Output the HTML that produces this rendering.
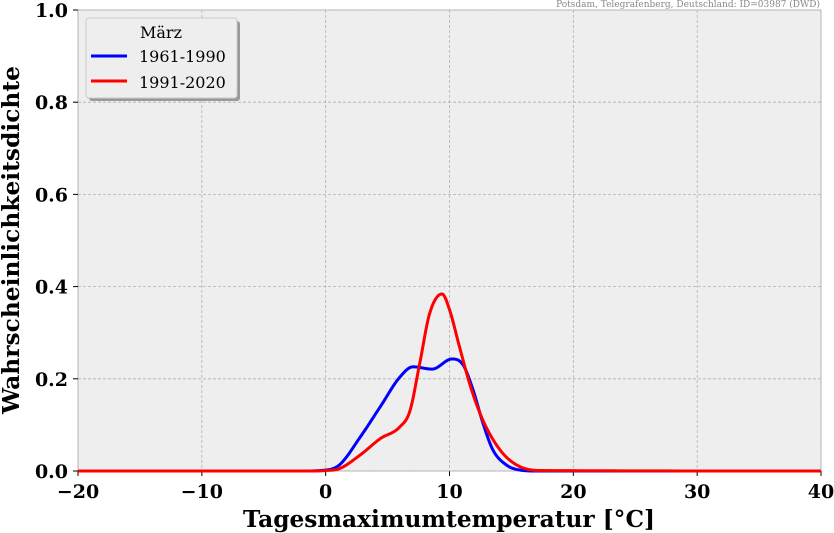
<!DOCTYPE html>
<html><head><meta charset="utf-8"><style>
body{margin:0;background:#fff}
text{font-family:"DejaVu Serif","Liberation Serif",serif}
</style></head><body>
<svg id="chart" width="834" height="533" style="position:absolute;left:0;top:0">
</svg>
<script>
const xTicks=[-20,-10,0,10,20,30,40];
const yTicks=[0.0,0.2,0.4,0.6,0.8,1.0];
const blueX=[-20,-2,0,1.1,2.8,4.4,6.0,7.05,8.6,10.2,11.1,11.9,12.7,13.5,14.6,15.7,17,40];
const blueY=[0,0,0.002,0.013,0.074,0.139,0.204,0.226,0.221,0.243,0.23,0.176,0.104,0.046,0.013,0.002,0,0];
const redX=[-20,-1,0,1.1,2.8,4.4,6.0,6.8,7.6,8.4,9.4,10.0,10.8,11.7,12.7,14.1,15.5,17.3,40];
const redY=[0,0,0.001,0.005,0.035,0.07,0.096,0.13,0.234,0.342,0.384,0.35,0.27,0.183,0.11,0.045,0.012,0.001,0];
const L=78,R=821,T=10,B=471;
const sx=v=>L+(v+20)/60*(R-L), sy=v=>B-v*(B-T);
const svg=document.getElementById('chart');const NS='http://www.w3.org/2000/svg';
function el(t,a,p){const e=document.createElementNS(NS,t);for(const k in a)e.setAttribute(k,a[k]);(p||svg).appendChild(e);return e;}
const bg=el('rect',{x:L,y:T,width:R-L,height:B-T,fill:'#eeeeee',stroke:'#bbbbbb'});

xTicks.forEach(v=>{const g=el('line',{x1:sx(v),x2:sx(v),y1:T,y2:B,stroke:'#b0b0b0','stroke-dasharray':'3,2','stroke-width':0.8});

el('line',{x1:sx(v),x2:sx(v),y1:B,y2:B+5,stroke:'#000'});
const t=el('text',{x:sx(v),y:B+27,'text-anchor':'middle','font-size':19,'font-weight':'bold'});t.textContent=(v<0?'−':'')+Math.abs(v);
});
yTicks.forEach(v=>{const g=el('line',{x1:L,x2:R,y1:sy(v),y2:sy(v),stroke:'#b0b0b0','stroke-dasharray':'3,2','stroke-width':0.8});

el('line',{x1:L-5,x2:L,y1:sy(v),y2:sy(v),stroke:'#000'});
const t=el('text',{x:L-10,y:sy(v)+7,'text-anchor':'end','font-size':19,'font-weight':'bold'});t.textContent=v.toFixed(1);
});
function path(xs,ys){
  const n=xs.length,d=[],m=[];
  for(let i=0;i<n-1;i++)d.push((ys[i+1]-ys[i])/(xs[i+1]-xs[i]));
  m[0]=d[0];m[n-1]=d[n-2];
  for(let i=1;i<n-1;i++){m[i]=(d[i-1]*d[i]<=0)?0:(d[i-1]+d[i])/2;}
  for(let i=0;i<n-1;i++){if(d[i]===0){m[i]=0;m[i+1]=0;continue;}
    const a=m[i]/d[i],b=m[i+1]/d[i],s=a*a+b*b;if(s>9){const t=3/Math.sqrt(s);m[i]=t*a*d[i];m[i+1]=t*b*d[i];}}
  let p='M'+sx(xs[0])+','+sy(ys[0]);
  for(let i=0;i<n-1;i++){const h=xs[i+1]-xs[i];
    for(let k=1;k<=20;k++){const t=k/20,t2=t*t,t3=t2*t;
      const y=(2*t3-3*t2+1)*ys[i]+(t3-2*t2+t)*h*m[i]+(-2*t3+3*t2)*ys[i+1]+(t3-t2)*h*m[i+1];
      p+=' L'+sx(xs[i]+t*h).toFixed(2)+','+sy(Math.max(0,y)).toFixed(2);}}
  return p;}
const bl=el('path',{d:path(blueX,blueY),fill:'none',stroke:'#0000ff','stroke-width':3,'stroke-linejoin':'round'});

const rl=el('path',{d:path(redX,redY),fill:'none',stroke:'#ff0000','stroke-width':3,'stroke-linejoin':'round'});

</script>
<svg width="834" height="533" style="position:absolute;left:0;top:0">
<text x="449" y="527" text-anchor="middle" font-size="23" font-weight="bold" textLength="412" lengthAdjust="spacingAndGlyphs">Tagesmaximumtemperatur [°C]</text>
<text transform="translate(19,240) rotate(-90)" text-anchor="middle" font-size="23" font-weight="bold" textLength="348" lengthAdjust="spacingAndGlyphs">Wahrscheinlichkeitsdichte</text>
<text x="820" y="7" text-anchor="end" font-size="9" fill="#888">Potsdam, Telegrafenberg, Deutschland: ID=03987 (DWD)</text>
<g>
<rect x="89" y="21" width="151" height="80" rx="3" fill="#999"/>
<rect x="86" y="18" width="151" height="80" rx="3" fill="#eeeeee" stroke="#cccccc"/>
<text x="161" y="38" text-anchor="middle" font-size="16">März</text>
<line x1="91" x2="127" y1="56" y2="56" stroke="#0000ff" stroke-width="3"/>
<text x="139" y="62" font-size="16">1961-1990</text>
<line x1="91" x2="127" y1="81" y2="81" stroke="#ff0000" stroke-width="3"/>
<text x="139" y="88" font-size="16">1991-2020</text>
</g>
</svg>
</body></html>
